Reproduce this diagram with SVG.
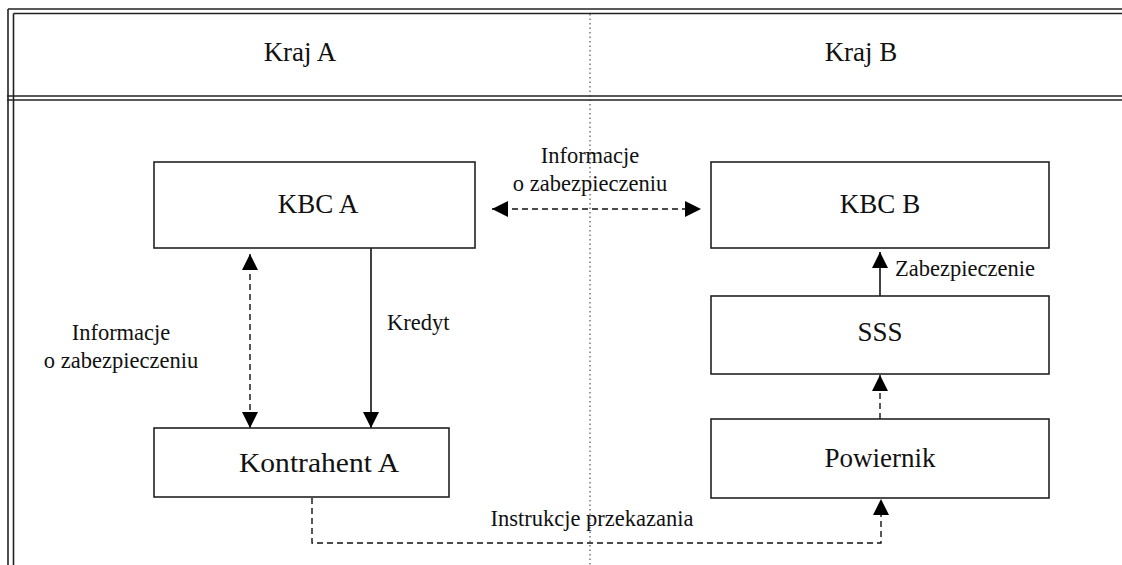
<svg xmlns="http://www.w3.org/2000/svg" width="1122" height="565" viewBox="0 0 1122 565">
<defs>
<marker id="ah" viewBox="0 0 16 16" refX="16" refY="8" markerWidth="16" markerHeight="16" markerUnits="userSpaceOnUse" orient="auto-start-reverse">
<path d="M0,0 L16,8 L0,16 Z" fill="#000"/>
</marker>
<style>
.frame{stroke:#222;stroke-width:1.6;fill:none}
.box{fill:#fff;stroke:#222;stroke-width:1.6}
text{font-family:"Liberation Serif","Times New Roman","DejaVu Serif",serif;fill:#111;text-anchor:middle}
.big{font-size:27px}
.small{font-size:22.5px}
.start{text-anchor:start}
.solid{stroke:#111;stroke-width:1.6;fill:none}
.dash{stroke:#111;stroke-width:1.4;fill:none;stroke-dasharray:6 4}
.dot{stroke:#333;stroke-width:1;fill:none;stroke-dasharray:1.5 3}
</style>
</defs>
<g id="frame">
<line class="frame" x1="8" y1="9" x2="8" y2="565"/>
<line class="frame" x1="13.5" y1="13.5" x2="13.5" y2="565"/>
<line class="frame" x1="8" y1="9" x2="1122" y2="9"/>
<line class="frame" x1="13.5" y1="13.5" x2="1122" y2="13.5"/>
<line class="frame" x1="7" y1="96" x2="1122" y2="96"/>
<line class="frame" x1="7" y1="100" x2="1122" y2="100"/>
<line class="dot" x1="590" y1="14" x2="590" y2="565"/>
<text class="big" x="300" y="61">Kraj A</text>
<text class="big" x="861" y="61">Kraj B</text>
</g>
<g id="connectors">
<line class="dash" x1="492" y1="209" x2="701" y2="209" marker-start="url(#ah)" marker-end="url(#ah)"/>
<line class="dash" x1="250" y1="254" x2="250" y2="428" marker-start="url(#ah)" marker-end="url(#ah)"/>
<line class="solid" x1="371" y1="248" x2="371" y2="428" marker-end="url(#ah)"/>
<line class="solid" x1="880" y1="296" x2="880" y2="252" marker-end="url(#ah)"/>
<line class="dash" x1="880" y1="419" x2="880" y2="375" marker-end="url(#ah)"/>
<polyline class="dash" points="312,498 312,543 881,543 881,499" marker-end="url(#ah)"/>
<text class="small" x="590" y="163">Informacje</text>
<text class="small" x="590" y="191">o zabezpieczeniu</text>
<text class="small" x="121" y="340">Informacje</text>
<text class="small" x="121" y="368">o zabezpieczeniu</text>
<text class="small start" x="387" y="330">Kredyt</text>
<text class="small start" x="895" y="276">Zabezpieczenie</text>
<text class="small" x="592" y="526">Instrukcje przekazania</text>
</g>
<g id="kbc-a">
<rect class="box" x="154" y="162" width="321" height="86"/>
<text class="big" x="318" y="213">KBC A</text>
</g>
<g id="kbc-b">
<rect class="box" x="711" y="162" width="338" height="86"/>
<text class="big" x="880" y="213">KBC B</text>
</g>
<g id="sss">
<rect class="box" x="711" y="296" width="338" height="78"/>
<text class="big" x="880" y="341">SSS</text>
</g>
<g id="powiernik">
<rect class="box" x="711" y="419" width="338" height="79"/>
<text class="big" x="880" y="467">Powiernik</text>
</g>
<g id="kontrahent-a">
<rect class="box" x="154" y="428" width="295" height="69"/>
<text class="big" x="319" y="472" style="font-size:28px" textLength="160" lengthAdjust="spacingAndGlyphs">Kontrahent A</text>
</g>
</svg>
